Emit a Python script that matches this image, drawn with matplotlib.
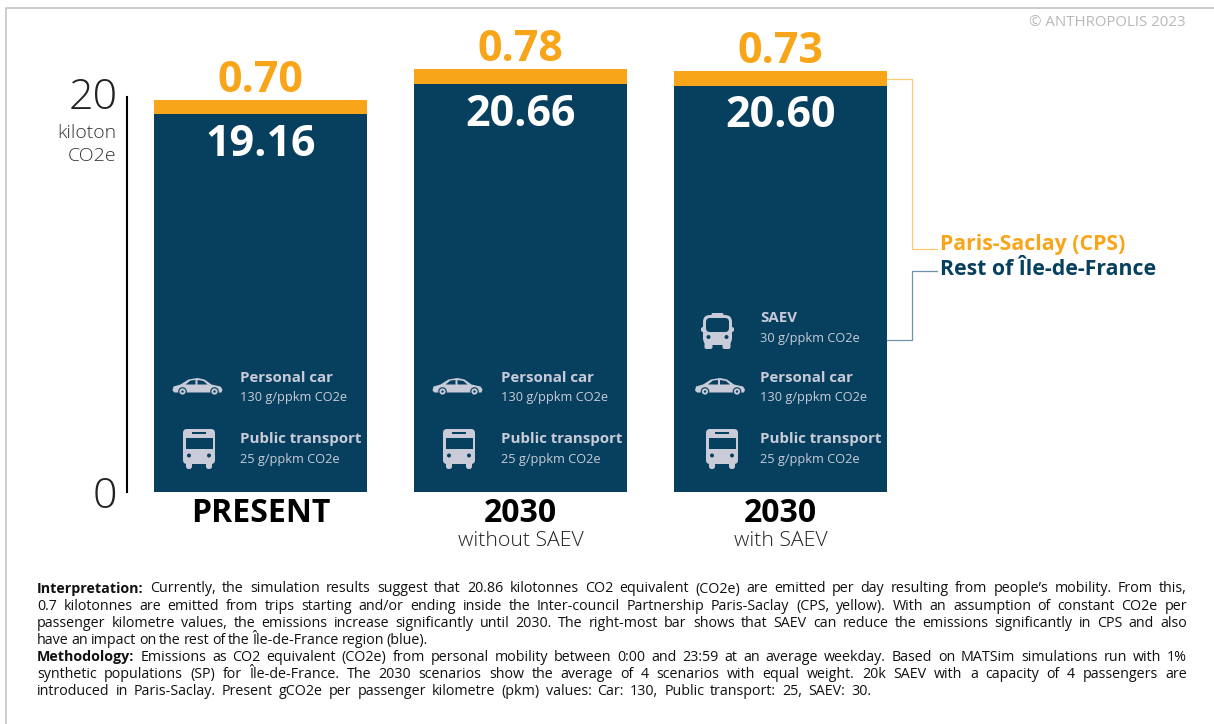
import matplotlib
matplotlib.use('Agg')
import matplotlib.pyplot as plt
from matplotlib.patches import FancyBboxPatch, Circle, Rectangle, Polygon
from matplotlib.lines import Line2D
from matplotlib.transforms import ScaledTranslation

W, H = 1214, 724
BLUE = '#07405e'
ORANGE = '#f9a51a'
ICON = '#c9ccd8'
FONT = 'Open Sans'

plt.rcParams['font.family'] = [FONT, 'DejaVu Sans']

scenarios = ['PRESENT', '2030', '2030']
subtitles = ['', 'without SAEV', 'with SAEV']
rest_idf = [19.16, 20.66, 20.60]
cps = [0.70, 0.78, 0.73]
y_ticks = [0, 20]
legend_labels = ['Paris-Saclay (CPS)', 'Rest of Île-de-France']

mode_names = ['Public transport', 'Personal car', 'SAEV']
mode_values = ['25 g/ppkm CO2e', '130 g/ppkm CO2e', '30 g/ppkm CO2e']
modes_per_bar = [2, 2, 3]

interpretation = [
    [('Interpretation:', True), ('Currently, the simulation results suggest that 20.86 kilotonnes CO2 equivalent (CO2e) are emitted per day resulting from people’s mobility. From this,', False)],
    [('0.7 kilotonnes are emitted from trips starting and/or ending inside the Inter-council Partnership Paris-Saclay (CPS, yellow). With an assumption of constant CO2e per', False)],
    [('passenger kilometre values, the emissions increase significantly until 2030. The right-most bar shows that SAEV can reduce the emissions significantly in CPS and also', False)],
    [('have an impact on the rest of the Île-de-France region (blue).', False)],
    [('Methodology:', True), ('Emissions as CO2 equivalent (CO2e) from personal mobility between 0:00 and 23:59 at an average weekday. Based on MATSim simulations run with 1%', False)],
    [('synthetic populations (SP) for Île-de-France. The 2030 scenarios show the average of 4 scenarios with equal weight. 20k SAEV with a capacity of 4 passengers are', False)],
    [('introduced in Paris-Saclay. Present gCO2e per passenger kilometre (pkm) values: Car: 130, Public transport: 25, SAEV: 30.', False)],
]
line_ends = [1187, 1187, 1187, 428, 1187, 1187, 871]

fig = plt.figure(figsize=(W / 100, H / 100), dpi=100, facecolor='white')


def px_axes(left, top, right, bottom):
    return fig.add_axes([left / W, 1 - bottom / H, (right - left) / W, (bottom - top) / H])


# bars
ax = px_axes(127, 30, 930, 491.5)
ax.patch.set_alpha(0)
x = list(range(len(scenarios)))
ax.bar(x, rest_idf, width=0.82, color=BLUE)
ax.bar(x, cps, width=0.82, bottom=rest_idf, color=ORANGE)
ax.set_xlim((127 - 260.5) / 260, (930 - 260.5) / 260)
ax.set_ylim(0, 461.5 / 19.7)

for s in ['top', 'right', 'bottom']:
    ax.spines[s].set_visible(False)
ax.spines['left'].set_bounds(0, 20)
ax.spines['left'].set_linewidth(1.5)
ax.set_yticks(y_ticks)
ax.set_yticklabels([str(t) for t in y_ticks], fontsize=31, fontweight='light', color='#222222')
ax.tick_params(axis='y', length=0, pad=7)
# the "20" sits a little higher than its tick
top_label = ax.get_yticklabels()[1]
top_label.set_transform(top_label.get_transform() + ScaledTranslation(0, 3.5 / 72, fig.dpi_scale_trans))
ax.set_xticks(x)
ax.set_xticklabels(scenarios, fontsize=23, fontweight='bold', color='black')
ax.tick_params(axis='x', length=0, pad=4)

for i in x:
    ax.annotate(f'{rest_idf[i]:.2f}', (i, rest_idf[i]), xytext=(0, -30), textcoords='offset points',
                ha='center', va='baseline', fontsize=31, fontweight='bold', color='white')
    ax.annotate(f'{cps[i]:.2f}', (i, rest_idf[i] + cps[i]), xytext=(0, 6), textcoords='offset points',
                ha='center', va='baseline', fontsize=31, fontweight='bold', color=ORANGE)

# overlay in pixel coordinates
ov = fig.add_axes([0, 0, 1, 1])
ov.set_xlim(0, W)
ov.set_ylim(H, 0)
ov.axis('off')
ov.patch.set_alpha(0)


def rbox(x0, y0, w, h, r, color):
    ov.add_patch(FancyBboxPatch((x0 + r, y0 + r), w - 2 * r, h - 2 * r,
                                boxstyle=f'round,pad={r},rounding_size={r}', fc=color, ec='none'))


def bus_icon(cx, cy):
    rbox(cx - 16, cy - 20, 32, 35, 4, ICON)
    rbox(cx - 13, cy + 10, 6, 10, 2.5, ICON)
    rbox(cx + 7, cy + 10, 6, 10, 2.5, ICON)
    ov.add_patch(Rectangle((cx - 13.5, cy - 11), 27, 10.5, fc=BLUE, ec='none'))
    ov.add_patch(Rectangle((cx - 7, cy - 17), 14, 2.2, fc=BLUE, ec='none'))
    ov.add_patch(Circle((cx - 10, cy + 6.5), 2, fc=BLUE, ec='none'))
    ov.add_patch(Circle((cx + 10, cy + 6.5), 2, fc=BLUE, ec='none'))


def saev_icon(cx, cy):
    rbox(cx - 6, cy - 18, 12, 4, 1.5, ICON)
    rbox(cx - 14.5, cy - 16, 29, 30, 7, ICON)
    rbox(cx - 16.5, cy - 4, 33, 5, 2, ICON)
    rbox(cx - 13, cy + 10, 8, 8, 2, ICON)
    rbox(cx + 5, cy + 10, 8, 8, 2, ICON)
    rbox(cx - 11.5, cy - 13, 23, 14, 4, BLUE)
    ov.add_patch(Circle((cx - 9, cy + 6), 2, fc=BLUE, ec='none'))
    ov.add_patch(Circle((cx + 9, cy + 6), 2, fc=BLUE, ec='none'))


def car_icon(cx, cy):
    outline = [(-25, 4), (-24, 0), (-17, -2), (-9, -7), (0, -8.5), (7, -7), (14, -2), (23, 0),
               (25, 3), (24, 6), (-23, 6)]
    ov.add_patch(Polygon([(cx + a, cy + b) for a, b in outline], closed=True, fc=ICON, ec='none'))
    ov.add_patch(Polygon([(cx + a, cy + b) for a, b in [(-12, -2), (-7, -6), (-2, -6.5), (-2, -2)]],
                         closed=True, fc=BLUE, ec='none'))
    ov.add_patch(Polygon([(cx + a, cy + b) for a, b in [(0, -6.5), (6, -5.5), (10, -2), (0, -2)]],
                         closed=True, fc=BLUE, ec='none'))
    for dx in (-15, 17):
        ov.add_patch(Circle((cx + dx, cy + 5), 4.3, fc=BLUE, ec='none'))
        ov.add_patch(Circle((cx + dx, cy + 5), 3.1, fc=ICON, ec='none'))
        ov.add_patch(Circle((cx + dx, cy + 5), 1.2, fc=BLUE, ec='none'))


row_y = [439.5, 377.5, 318.5]
text_x = [240, 501, 760]
bus_x = [199, 459, 722]
car_x = [197.5, 457.5, 720]

for b, n in enumerate(modes_per_bar):
    for m in range(n):
        ov.text(text_x[b], row_y[m], mode_names[m], fontsize=10.8, fontweight='bold', color=ICON, va='center')
        ov.text(text_x[b], row_y[m] + 20, mode_values[m], fontsize=9.2, color=ICON, va='center')
    bus_icon(bus_x[b], 449)
    car_icon(car_x[b], 386.5)
saev_icon(717.5, 331)

# axis unit
ov.text(116, 133, 'kiloton', fontsize=14, fontweight='light', color='#333333', ha='right', va='center')
ov.text(116, 156, 'CO2e', fontsize=14, fontweight='light', color='#333333', ha='right', va='center')

# sub labels under the bars
for i, s in enumerate(subtitles):
    if s:
        ax.annotate(s, (i, 0), xytext=(0, -36), textcoords='offset points', ha='center', va='center',
                    fontsize=15.3, fontweight='light', color='#222222', annotation_clip=False)

# legend with connectors
ov.add_line(Line2D([887, 912, 912, 937], [78.5, 78.5, 249, 249], color='#fbc875', lw=0.9))
ov.add_line(Line2D([887, 912, 912, 937], [340, 340, 271, 271], color='#6f93a8', lw=0.9))
ov.text(940, 244.5, legend_labels[0], fontsize=15.3, fontweight='bold', color=ORANGE, va='center')
ov.text(940, 269.5, legend_labels[1], fontsize=15.3, fontweight='bold', color=BLUE, va='center')

ov.text(1186, 22, '© ANTHROPOLIS 2023', fontsize=10.8, color='#b8b8b8', ha='right', va='center')

# frame
ov.add_line(Line2D([5.5, 5.5, W], [H, 8, 8], color='#c4c4c4', lw=1.2))

# justified paragraph, word by word
renderer = fig.canvas.get_renderer()
LEFT = 37
for i, line in enumerate(interpretation):
    words = []
    for chunk, bold in line:
        words += [(w, bold) for w in chunk.split(' ')]
    items = []
    for w, bold in words:
        t = ov.text(0, 0, w, fontsize=10.3, fontweight='bold' if bold else 'normal', color='#111111', va='baseline')
        items.append((t, t.get_window_extent(renderer).width))
    total = sum(wd for _, wd in items)
    gap = (line_ends[i] - LEFT - total) / (len(items) - 1)
    xpos = LEFT
    y = 592.5 + i * 17.1
    for t, wd in items:
        t.set_position((xpos, y))
        xpos += wd + gap

fig.savefig('out.png', dpi=100)
